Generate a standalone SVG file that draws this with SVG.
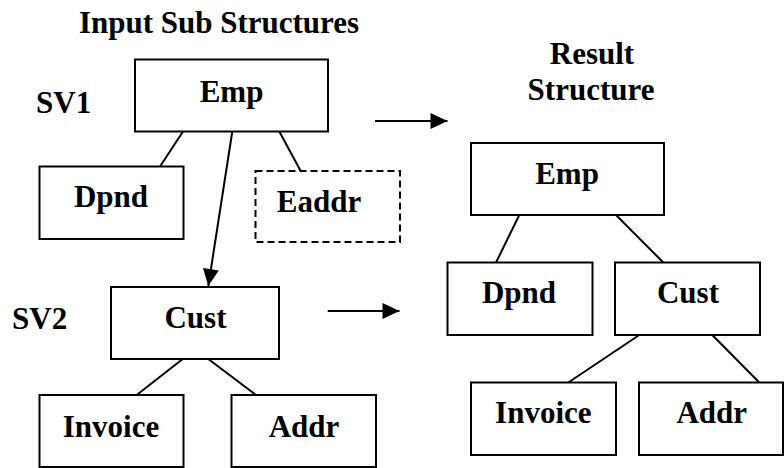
<svg xmlns="http://www.w3.org/2000/svg" width="784" height="468" viewBox="0 0 784 468">
  <defs>
    <marker id="arrow" markerUnits="userSpaceOnUse" markerWidth="18" markerHeight="16" refX="17" refY="8" orient="auto" overflow="visible">
      <path d="M0,0 L17,8 L0,16 z" fill="#000"/>
    </marker>
    <style>
      .box { fill: #fff; stroke: #000; stroke-width: 2; }
      .dashed { fill: #fff; stroke: #000; stroke-width: 2; stroke-dasharray: 7 4; }
      .edge { stroke: #000; stroke-width: 2; fill: none; }
      text { font-family: "Liberation Serif", "Times New Roman", Times, "DejaVu Serif", serif; font-weight: bold; font-size: 31px; fill: #000; }
      .lbl { text-anchor: middle; }
      .side { text-anchor: start; }
    </style>
  </defs>
  <rect width="784" height="468" fill="#fff"/>

  <g id="titles" font-family="Liberation Serif, Times New Roman, serif">
    <text class="lbl" x="219" y="33">Input Sub Structures</text>
    <text class="lbl" x="592" y="63.5">Result</text>
    <text class="lbl" x="591" y="99.5">Structure</text>
    <text class="side" x="36" y="113">SV1</text>
    <text class="side" x="12" y="329">SV2</text>
  </g>

  <g id="connectors">
    <line class="edge" x1="183" y1="131.5" x2="160" y2="166.5"/>
    <line class="edge" x1="279.3" y1="131.5" x2="300.7" y2="171"/>
    <line class="edge" x1="232.3" y1="131.5" x2="208.3" y2="286" marker-end="url(#arrow)"/>
    <line class="edge" x1="182.7" y1="359" x2="136.7" y2="395"/>
    <line class="edge" x1="208.3" y1="359" x2="256" y2="395"/>
    <line class="edge" x1="375" y1="121" x2="447.5" y2="121" marker-end="url(#arrow)"/>
    <line class="edge" x1="327.7" y1="311" x2="399.5" y2="311" marker-end="url(#arrow)"/>
    <line class="edge" x1="519.3" y1="215" x2="496" y2="262.5"/>
    <line class="edge" x1="616" y1="215" x2="663.3" y2="262.5"/>
    <line class="edge" x1="639.3" y1="335" x2="568.3" y2="382.5"/>
    <line class="edge" x1="712.3" y1="335" x2="759.3" y2="382.5"/>
  </g>

  <g id="sv1-emp">
    <rect class="box" x="135" y="59.5" width="193" height="72"/>
    <text class="lbl" x="231.5" y="101.5">Emp</text>
  </g>
  <g id="sv1-dpnd">
    <rect class="box" x="39.5" y="166.5" width="144" height="72.5"/>
    <text class="lbl" x="111" y="206.5">Dpnd</text>
  </g>
  <g id="sv1-eaddr">
    <rect class="dashed" x="255.5" y="171" width="144.5" height="71"/>
    <text class="lbl" x="319" y="211.5">Eaddr</text>
  </g>
  <g id="sv2-cust">
    <rect class="box" x="111" y="287" width="168" height="72"/>
    <text class="lbl" x="195.5" y="327.5">Cust</text>
  </g>
  <g id="sv2-invoice">
    <rect class="box" x="39.5" y="395" width="144" height="72"/>
    <text class="lbl" x="111" y="436.5">Invoice</text>
  </g>
  <g id="sv2-addr">
    <rect class="box" x="231.5" y="395" width="144.5" height="72"/>
    <text class="lbl" x="304" y="436.5">Addr</text>
  </g>

  <g id="res-emp">
    <rect class="box" x="471" y="143" width="193" height="72"/>
    <text class="lbl" x="567" y="184">Emp</text>
  </g>
  <g id="res-dpnd">
    <rect class="box" x="447.5" y="262.5" width="145" height="72.5"/>
    <text class="lbl" x="519" y="303">Dpnd</text>
  </g>
  <g id="res-cust">
    <rect class="box" x="615" y="262.5" width="145" height="72.5"/>
    <text class="lbl" x="688" y="303">Cust</text>
  </g>
  <g id="res-invoice">
    <rect class="box" x="471" y="382.5" width="145" height="72.5"/>
    <text class="lbl" x="543.3" y="423">Invoice</text>
  </g>
  <g id="res-addr">
    <rect class="box" x="639" y="382.5" width="144" height="72.5"/>
    <text class="lbl" x="711.7" y="423">Addr</text>
  </g>
</svg>
